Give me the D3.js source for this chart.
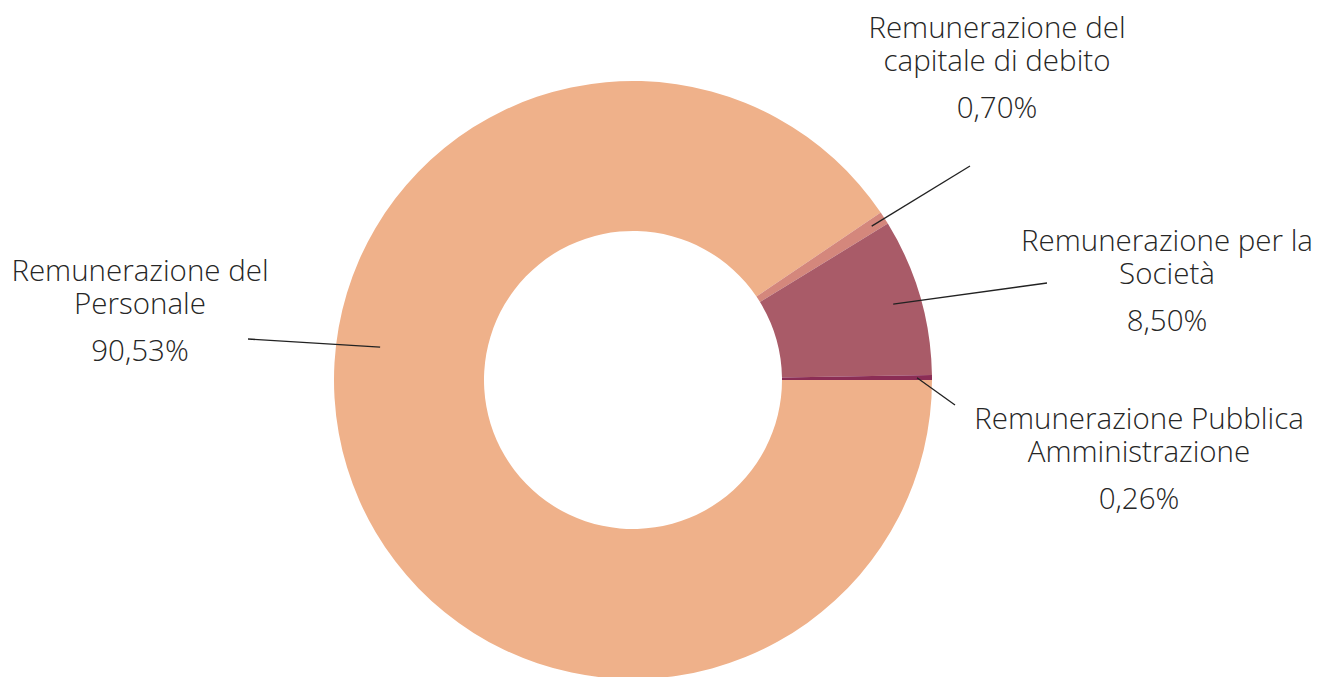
<!DOCTYPE html>
<html>
<head>
<meta charset="utf-8">
<script src="https://cdn.jsdelivr.net/npm/d3@7"></script>
<style>
  html, body { margin: 0; padding: 0; background: #fff; }
  svg { display: block; }
  text { font-family: "Open Sans", "Noto Sans", sans-serif; font-weight: 300; fill: #262626; }
</style>
</head>
<body>
<svg id="chart" width="1319" height="677"></svg>
<script>
// Data (clockwise from 3 o'clock)
const categories = [
  "Remunerazione del Personale",
  "Remunerazione del capitale di debito",
  "Remunerazione per la Società",
  "Remunerazione Pubblica Amministrazione"
];
const values = [90.53, 0.70, 8.50, 0.26];
const valueLabels = ["90,53%", "0,70%", "8,50%", "0,26%"];
const labelLines = [
  ["Remunerazione del", "Personale"],
  ["Remunerazione del", "capitale di debito"],
  ["Remunerazione per la", "Società"],
  ["Remunerazione Pubblica", "Amministrazione"]
];
const colors = ["#EFB18A", "#D4877C", "#A95B68", "#8B2D55"];

// Layout
const cx = 633, cy = 380, outerR = 299, innerR = 149;
const layout = [
  { tx: 140, ty: 281, angle: 277.4, r: 255, lx: 248, ly: 339 },
  { tx: 997, ty: 38,  angle: null,  r: 284, lx: 970, ly: 166 },
  { tx: 1167, ty: 251, angle: null, r: 271, lx: 1047, ly: 283 },
  { tx: 1139, ty: 429, angle: null, r: 284, lx: 955, ly: 405 }
];

const svg = d3.select("#chart");
const g = svg.append("g").attr("transform", `translate(${cx},${cy})`);

const pie = d3.pie().sort(null).value(d => d)
  .startAngle(Math.PI / 2).endAngle(Math.PI / 2 + 2 * Math.PI);
const arcs = pie(values);
const arc = d3.arc().innerRadius(innerR).outerRadius(outerR);

g.selectAll("path.slice").data(arcs).enter().append("path")
  .attr("class", "slice")
  .attr("d", arc)
  .attr("fill", (d, i) => colors[i]);

// Leader lines
arcs.forEach((d, i) => {
  const L = layout[i];
  const a = L.angle !== null ? L.angle * Math.PI / 180 : (d.startAngle + d.endAngle) / 2;
  const px = Math.sin(a) * L.r, py = -Math.cos(a) * L.r;
  g.append("line")
    .attr("x1", px).attr("y1", py)
    .attr("x2", L.lx - cx).attr("y2", L.ly - cy)
    .attr("stroke", "#222").attr("stroke-width", 1.3);
});

// Labels
labelLines.forEach((lines, i) => {
  const L = layout[i];
  lines.forEach((ln, j) => {
    svg.append("text").attr("text-anchor", "middle").style("font-size", "29.5px")
      .attr("x", L.tx).attr("y", L.ty + j * 33).text(ln);
  });
  svg.append("text").attr("text-anchor", "middle").style("font-size", "29.5px")
    .attr("x", L.tx).attr("y", L.ty + 80).text(valueLabels[i]);
});
</script>
</body>
</html>
